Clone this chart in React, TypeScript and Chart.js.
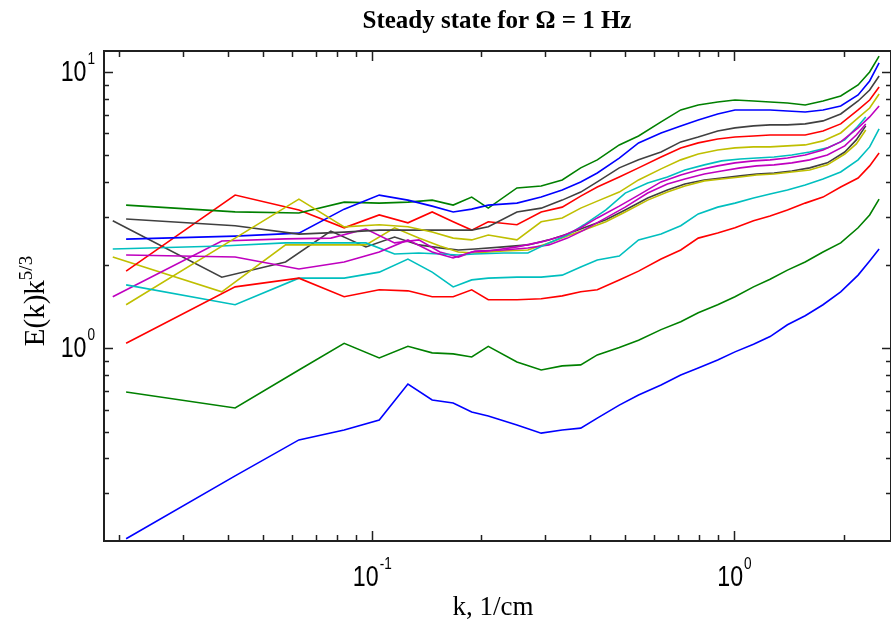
import React, { useEffect, useRef } from "react";
import { Chart, registerables } from "chart.js";

Chart.register(...registerables);

// wavenumbers (1/cm) of the two sampling grids
const kB = [0.0209, 0.0418, 0.0627, 0.0836, 0.1045, 0.1254, 0.1463, 0.1672, 0.1881, 0.209, 0.2508, 0.2926, 0.3344, 0.3762, 0.418, 0.4807, 0.5434, 0.627, 0.7106, 0.7942, 0.8987, 1.0032, 1.1286, 1.254, 1.4003, 1.5675, 1.7556, 1.9646, 2.1945, 2.3617, 2.508];
const kA = [0.0192, 0.0384, 0.0576, 0.0768, 0.096, 0.1152, 0.1344, 0.1536, 0.1728, 0.192, 0.2304, 0.2688, 0.3072, 0.3456, 0.384, 0.4416, 0.4992, 0.576, 0.6528, 0.7296, 0.8256, 0.9216, 1.0368, 1.152, 1.2864, 1.44, 1.6128, 1.8048, 2.016, 2.1696, 2.304];

// E(k) k^(5/3) series
const blueLow = [0.205, 0.346, 0.467, 0.507, 0.551, 0.744, 0.651, 0.635, 0.589, 0.570, 0.529, 0.494, 0.507, 0.515, 0.560, 0.624, 0.679, 0.738, 0.802, 0.850, 0.909, 0.972, 1.035, 1.104, 1.218, 1.313, 1.439, 1.603, 1.842, 2.073, 2.291];
const greenLow = [0.696, 0.609, 0.836, 1.044, 0.924, 1.018, 0.964, 0.956, 0.932, 1.018, 0.894, 0.836, 0.865, 0.872, 0.948, 1.009, 1.07, 1.17, 1.249, 1.346, 1.439, 1.538, 1.670, 1.781, 1.92, 2.056, 2.233, 2.409, 2.732, 3.041, 3.470];
const redLow = [1.044, 1.670, 1.796, 1.538, 1.63, 1.616, 1.538, 1.538, 1.63, 1.50, 1.50, 1.512, 1.550, 1.603, 1.63, 1.77, 1.904, 2.106, 2.27, 2.507, 2.614, 2.732, 2.896, 3.015, 3.17, 3.355, 3.528, 3.839, 4.135, 4.575, 5.091];
const cyanLow = [1.698, 1.439, 1.796, 1.796, 1.888, 2.106, 1.888, 1.670, 1.77, 1.796, 1.811, 1.811, 1.842, 1.971, 2.09, 2.159, 2.47, 2.592, 2.778, 3.066, 3.245, 3.355, 3.499, 3.617, 3.74, 3.904, 4.100, 4.347, 4.81, 5.358, 6.225];
const greenTop = [3.300, 3.118, 3.092, 3.383, 3.355, 3.383, 3.44, 3.300, 3.528, 3.218, 3.808, 3.871, 4.07, 4.500, 4.81, 5.448, 5.869, 6.599, 7.29, 7.597, 7.789, 7.92, 7.854, 7.789, 7.724, 7.597, 7.854, 8.190, 8.978, 10.0, 11.42];
const blueTop = [2.486, 2.549, 2.614, 3.191, 3.587, 3.44, 3.272, 3.118, 3.191, 3.300, 3.355, 3.528, 3.74, 4.003, 4.311, 4.883, 5.540, 6.018, 6.383, 6.71, 7.051, 7.29, 7.29, 7.29, 7.229, 7.170, 7.29, 7.534, 8.259, 9.282, 10.78];
const grayTop = [2.941, 2.778, 2.592, 2.636, 2.68, 2.68, 2.68, 2.68, 2.68, 2.754, 3.118, 3.218, 3.44, 3.678, 4.003, 4.500, 4.81, 5.134, 5.586, 5.820, 6.119, 6.277, 6.383, 6.436, 6.436, 6.490, 6.654, 7.051, 7.854, 8.61, 9.674];
const redTop = [1.904, 3.587, 3.17, 2.732, 3.041, 2.848, 3.118, 2.872, 2.68, 2.872, 2.801, 3.118, 3.245, 3.557, 3.839, 4.169, 4.500, 4.924, 5.314, 5.540, 5.724, 5.820, 5.869, 5.918, 5.918, 5.918, 6.119, 6.490, 7.29, 7.92, 8.829];
const yellowTop = [1.439, 2.507, 3.469, 2.754, 2.801, 2.754, 2.636, 2.507, 2.47, 2.571, 2.47, 2.872, 2.966, 3.218, 3.411, 3.678, 4.07, 4.462, 4.81, 5.049, 5.22, 5.314, 5.358, 5.358, 5.403, 5.448, 5.633, 6.018, 6.820, 7.409, 8.328];
const magentaTop = [2.177, 2.141, 1.939, 2.056, 2.233, 2.47, 2.233, 2.124, 2.233, 2.251, 2.330, 2.429, 2.549, 2.732, 2.966, 3.272, 3.587, 4.003, 4.240, 4.42, 4.575, 4.691, 4.770, 4.81, 4.883, 5.007, 5.22, 5.586, 6.277, 6.877, 7.534];
const cyanMid = [2.291, 2.349, 2.409, 2.409, 2.409, 2.196, 2.214, 2.196, 2.177, 2.196, 2.214, 2.214, 2.409, 2.571, 2.801, 3.17, 3.648, 3.969, 4.169, 4.42, 4.614, 4.770, 4.843, 4.883, 4.924, 5.007, 5.134, 5.314, 5.68, 6.277, 6.877];
const magentaMid = [1.538, 2.449, 2.491, 2.507, 2.703, 2.409, 2.47, 2.233, 2.141, 2.251, 2.27, 2.308, 2.369, 2.507, 2.68, 2.966, 3.245, 3.648, 3.937, 4.100, 4.275, 4.383, 4.500, 4.575, 4.614, 4.691, 4.81, 5.007, 5.403, 5.918, 6.490];
const grayMid = [2.896, 1.811, 2.056, 2.658, 2.330, 2.528, 2.369, 2.311, 2.27, 2.289, 2.330, 2.369, 2.47, 2.592, 2.732, 2.92, 3.17, 3.499, 3.74, 3.937, 4.07, 4.138, 4.209, 4.275, 4.311, 4.383, 4.500, 4.691, 5.134, 5.68, 6.383];
const yellowMid = [2.141, 1.603, 2.369, 2.369, 2.369, 2.732, 2.507, 2.349, 2.233, 2.214, 2.251, 2.27, 2.409, 2.549, 2.68, 2.872, 3.118, 3.44, 3.678, 3.871, 4.037, 4.100, 4.169, 4.240, 4.275, 4.347, 4.42, 4.614, 5.049, 5.494, 6.17];

// axis ticks
const xMajorTicks = [0.1, 1];
const xMajorExps = ["-1", "0"];
const xMinorTicks = [0.02, 0.03, 0.04, 0.05, 0.06, 0.07, 0.08, 0.09, 0.2, 0.3, 0.4, 0.5, 0.6, 0.7, 0.8, 0.9, 2];
const yMajorTicks = [1, 10];
const yMajorExps = ["0", "1"];
const yMinorTicks = [0.3, 0.4, 0.5, 0.6, 0.7, 0.8, 0.9, 2, 3, 4, 5, 6, 7, 8, 9];

const titleText = "Steady state for Ω = 1 Hz";
const xTitle = "k, 1/cm";
const yTitleBase = "E(k)k";
const yTitleExp = "5/3";

const C = {
  b: "#0000ff",
  g: "#008000",
  r: "#ff0000",
  c: "#00bfbf",
  m: "#bf00bf",
  y: "#bfbf00",
  k: "#404040",
};

const seriesList = [
  { k: kB, v: blueLow, color: C.b },
  { k: kB, v: greenLow, color: C.g },
  { k: kB, v: redLow, color: C.r },
  { k: kB, v: cyanLow, color: C.c },
  { k: kB, v: magentaTop, color: C.m },
  { k: kB, v: yellowTop, color: C.y },
  { k: kB, v: grayTop, color: C.k },
  { k: kB, v: blueTop, color: C.b },
  { k: kB, v: greenTop, color: C.g },
  { k: kB, v: redTop, color: C.r },
  { k: kA, v: cyanMid, color: C.c },
  { k: kA, v: magentaMid, color: C.m },
  { k: kA, v: yellowMid, color: C.y },
  { k: kA, v: grayMid, color: C.k },
];

const TICK_FONT = '"Liberation Sans", Arial, sans-serif';
const SERIF = '"Liberation Serif", "Times New Roman", serif';

function drawPow(ctx: CanvasRenderingContext2D, exp: string, cx: number, cy: number, align: "center" | "right") {
  const sx = 0.8;
  ctx.save();
  ctx.font = `29px ${TICK_FONT}`;
  const wb = ctx.measureText("10").width * sx;
  ctx.font = `17px ${TICK_FONT}`;
  const we = ctx.measureText(exp).width * sx;
  const total = wb + we + 1;
  const x0 = align === "center" ? cx - total / 2 : cx - total;
  ctx.translate(x0, cy);
  ctx.scale(sx, 1);
  ctx.fillStyle = "#000";
  ctx.textAlign = "left";
  ctx.textBaseline = "middle";
  ctx.font = `29px ${TICK_FONT}`;
  ctx.fillText("10", 0, 1);
  ctx.font = `17px ${TICK_FONT}`;
  ctx.fillText(exp, (wb + 1) / sx, -13);
  ctx.restore();
}

const framePlugin = {
  id: "frame",
  afterDraw(chart: any) {
    const { ctx, chartArea: a, scales } = chart;
    const xs = scales.x;
    const ys = scales.y;
    ctx.save();
    ctx.strokeStyle = "#202020";
    ctx.lineWidth = 2;
    ctx.strokeRect(a.left, a.top, a.right - a.left, a.bottom - a.top);
    ctx.lineWidth = 1.5;
    const xt = (v: number, len: number) => {
      const px = Math.round(xs.getPixelForValue(v)) + 0.5;
      ctx.beginPath();
      ctx.moveTo(px, a.bottom);
      ctx.lineTo(px, a.bottom - len);
      ctx.moveTo(px, a.top);
      ctx.lineTo(px, a.top + len);
      ctx.stroke();
    };
    const yt = (v: number, len: number) => {
      const py = Math.round(ys.getPixelForValue(v)) + 0.5;
      ctx.beginPath();
      ctx.moveTo(a.left, py);
      ctx.lineTo(a.left + len, py);
      ctx.moveTo(a.right, py);
      ctx.lineTo(a.right - len, py);
      ctx.stroke();
    };
    xMinorTicks.forEach((v) => xt(v, 6));
    xMajorTicks.forEach((v) => xt(v, 10));
    yMinorTicks.forEach((v) => yt(v, 5));
    yMajorTicks.forEach((v) => yt(v, 9));

    // tick labels
    xMajorTicks.forEach((v, i) => drawPow(ctx, xMajorExps[i], xs.getPixelForValue(v), 577, "center"));
    yMajorTicks.forEach((v, i) => drawPow(ctx, yMajorExps[i], 95, ys.getPixelForValue(v), "right"));

    // title
    ctx.fillStyle = "#000";
    ctx.textAlign = "center";
    ctx.textBaseline = "alphabetic";
    ctx.font = `bold 25px ${SERIF}`;
    ctx.fillText(titleText, 497, 28);

    // x title
    ctx.font = `27px ${SERIF}`;
    ctx.fillText(xTitle, 493, 615);

    // y title (rotated)
    ctx.save();
    ctx.translate(44, 301);
    ctx.rotate(-Math.PI / 2);
    ctx.font = `29px ${SERIF}`;
    const wb = ctx.measureText(yTitleBase).width;
    ctx.font = `19px ${SERIF}`;
    const we = ctx.measureText(yTitleExp).width;
    const start = -(wb + we) / 2;
    ctx.textAlign = "left";
    ctx.font = `29px ${SERIF}`;
    ctx.fillText(yTitleBase, start, 0);
    ctx.font = `19px ${SERIF}`;
    ctx.fillText(yTitleExp, start + wb, -12);
    ctx.restore();

    ctx.restore();
  },
};

export default function App() {
  const ref = useRef<HTMLCanvasElement | null>(null);
  useEffect(() => {
    if (!ref.current) return;
    const chart = new Chart(ref.current, {
      type: "line",
      data: {
        datasets: seriesList.map((s) => ({
          data: s.k.map((k, i) => ({ x: k, y: s.v[i] })),
          borderColor: s.color,
          backgroundColor: s.color,
          borderWidth: 1.6,
          pointRadius: 0,
          fill: false,
          tension: 0,
        })),
      },
      options: {
        animation: false,
        responsive: false,
        devicePixelRatio: 1,
        parsing: false as any,
        layout: { padding: { left: 0, right: -4, top: 51, bottom: 0 } },
        plugins: {
          legend: { display: false },
          title: { display: false },
          tooltip: { enabled: false },
        },
        scales: {
          x: {
            type: "logarithmic",
            min: 0.01816,
            max: 2.705,
            ticks: { display: false },
            grid: { display: false },
            border: { display: false },
            afterFit: (s: any) => {
              s.height = 83;
            },
          },
          y: {
            type: "logarithmic",
            min: 0.2012,
            max: 11.91,
            ticks: { display: false },
            grid: { display: false },
            border: { display: false },
            afterFit: (s: any) => {
              s.width = 104;
            },
          },
        },
      },
      plugins: [framePlugin],
    });
    return () => chart.destroy();
  }, []);
  return (
    <div style={{ position: "absolute", left: 0, top: 0, width: 891, height: 624, background: "#fff" }}>
      <canvas ref={ref} width={891} height={624} style={{ display: "block" }} />
    </div>
  );
}
